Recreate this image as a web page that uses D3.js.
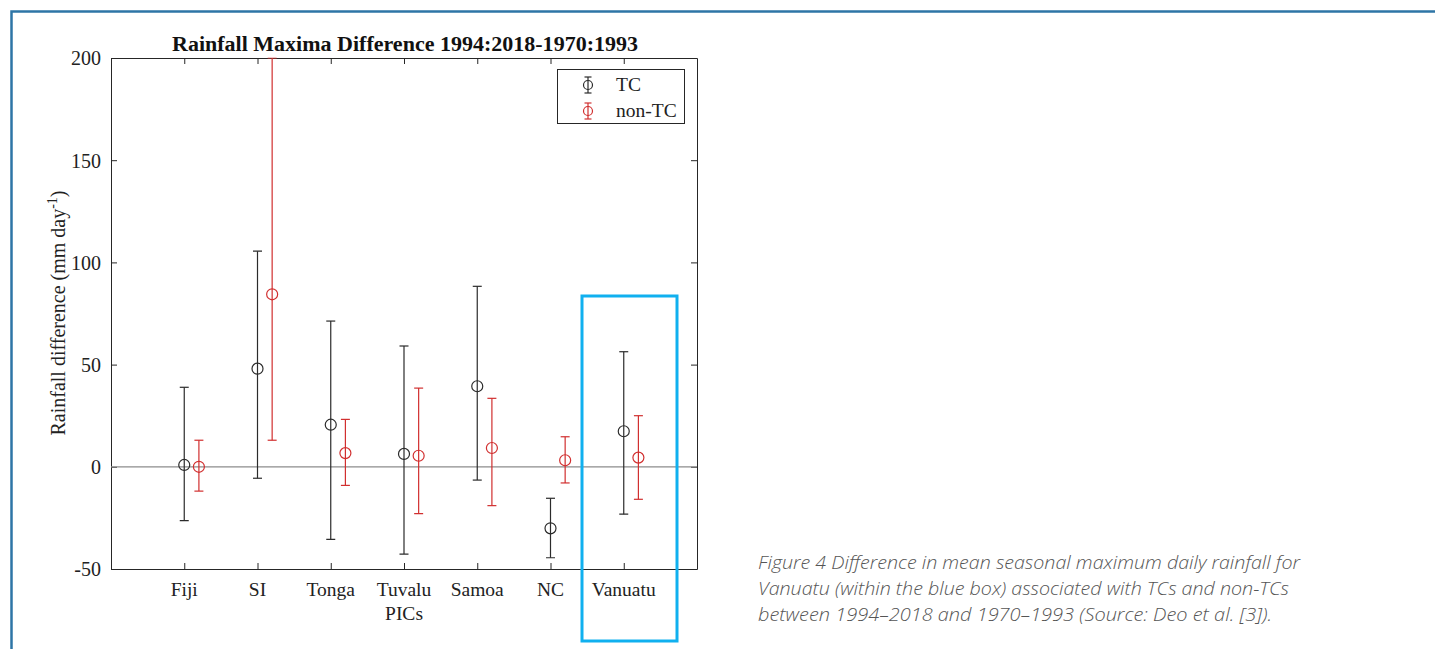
<!DOCTYPE html>
<html><head><meta charset="utf-8">
<script src="https://cdn.jsdelivr.net/npm/d3@7"></script>
<style>
html,body{margin:0;padding:0;background:#fff;}
svg{display:block;}
</style></head>
<body>
<script>
const categories = ["Fiji","SI","Tonga","Tuvalu","Samoa","NC","Vanuatu"];
const tcValue  = [0.9, 48.0, 20.6, 6.3, 39.4, -30.1, 17.4];
const tcUpper  = [38.9, 105.5, 71.3, 59.1, 88.3, -15.4, 56.3];
const tcLower  = [-26.3, -5.6, -35.5, -42.7, -6.5, -44.5, -23.2];
const ntcValue = [0.0, 84.4, 6.7, 5.4, 9.2, 3.2, 4.5];
const ntcUpper = [13.0, 200.0, 23.2, 38.5, 33.5, 14.7, 25.0];
const ntcLower = [-11.9, 13.0, -9.1, -22.9, -19.0, -7.9, -15.9];
const yTicks = [-50, 0, 50, 100, 150, 200];
const seriesNames = ["TC", "non-TC"];
const titleText = "Rainfall Maxima Difference 1994:2018-1970:1993";
const captionLines = [
  "Figure 4 Difference in mean seasonal maximum daily rainfall for",
  "Vanuatu (within the blue box) associated with TCs and non-TCs",
  "between 1994\u20132018 and 1970\u20131993 (Source: Deo et al. [3])."
];

const W = 1435, H = 649;
const m = {left:111, right:697, top:58, bottom:569};
const svg = d3.select("body").append("svg").attr("width", W).attr("height", H);

// page border
svg.append("path").attr("d", `M11.5,${H+5} V11.5 H${W+5}`)
  .attr("fill","none").attr("stroke","#2e75a6").attr("stroke-width",2.5);

const x = d3.scaleLinear().domain([0, categories.length + 1]).range([m.left, m.right]);
const y = d3.scaleLinear().domain([-50, 200]).range([m.bottom, m.top]);
const serif = "'Liberation Serif','Times New Roman',serif";
const axisColor = "#262626";
const colTC = "#2b2b2b", colNTC = "#d12f2f";

svg.append("defs").append("clipPath").attr("id","clip")
  .append("rect").attr("x", m.left).attr("y", m.top - 0.5)
  .attr("width", m.right - m.left).attr("height", m.bottom - m.top + 1);

// axes
const idx = categories.map((d,i)=>i+1);
const gB = svg.append("g").attr("transform",`translate(0,${m.bottom})`)
  .call(d3.axisBottom(x).tickValues(idx).tickSizeInner(-6).tickSizeOuter(0).tickFormat(""));
const gT = svg.append("g").attr("transform",`translate(0,${m.top})`)
  .call(d3.axisTop(x).tickValues(idx).tickSizeInner(-6).tickSizeOuter(0).tickFormat(""));
const gL = svg.append("g").attr("transform",`translate(${m.left},0)`)
  .call(d3.axisLeft(y).tickValues(yTicks).tickSizeInner(-6).tickSizeOuter(0).tickFormat(d=>String(d)).tickPadding(10));
const gR = svg.append("g").attr("transform",`translate(${m.right},0)`)
  .call(d3.axisRight(y).tickValues(yTicks).tickSizeInner(-6).tickSizeOuter(0).tickFormat(""));
[gB,gT,gL,gR].forEach(g=>{
  g.select(".domain").attr("stroke",axisColor).attr("stroke-width",1);
  g.selectAll(".tick line").attr("stroke",axisColor).attr("stroke-width",1);
});
gL.selectAll(".tick text").attr("font-family",serif).attr("font-size",20).attr("fill","#222")
  .attr("dy","0.34em");

// category labels
const catG = svg.append("g");
categories.forEach((c,i)=>{
  catG.append("text").attr("x", x(i+1)).attr("y", 596)
    .attr("text-anchor","middle").attr("font-family",serif).attr("font-size",19.5).attr("fill","#222").text(c);
});
catG.append("text").attr("x", x(4)).attr("y", 620)
  .attr("text-anchor","middle").attr("font-family",serif).attr("font-size",19.5).attr("fill","#222").text("PICs");

// zero line
svg.append("line").attr("x1", m.left).attr("x2", m.right).attr("y1", y(0)).attr("y2", y(0))
  .attr("stroke","#8c8c8c").attr("stroke-width",1.2);

// error bars
const off = 0.2, cap = 4.5, r = 5.5;
function drawSeries(vals, up, lo, color, dx){
  const g = svg.append("g").attr("clip-path","url(#clip)");
  vals.forEach((v,i)=>{
    const cx = x(i+1+dx);
    g.append("line").attr("x1",cx).attr("x2",cx).attr("y1",y(up[i])).attr("y2",y(lo[i]))
      .attr("stroke",color).attr("stroke-width",1.2);
    [up[i],lo[i]].forEach(e=>{
      g.append("line").attr("x1",cx-cap).attr("x2",cx+cap).attr("y1",y(e)).attr("y2",y(e))
        .attr("stroke",color).attr("stroke-width",1.2);
    });
    g.append("circle").attr("cx",cx).attr("cy",y(v)).attr("r",r)
      .attr("fill","none").attr("stroke",color).attr("stroke-width",1.2);
  });
}
drawSeries(tcValue, tcUpper, tcLower, colTC, 0);
drawSeries(ntcValue, ntcUpper, ntcLower, colNTC, off);

// title
svg.append("text").attr("x", 405).attr("y", 51).attr("text-anchor","middle")
  .attr("font-family",serif).attr("font-weight","bold").attr("font-size",20.5).attr("fill","#111")
  .attr("textLength",466).attr("lengthAdjust","spacingAndGlyphs")
  .text(titleText);

// y label
const yl = svg.append("text").attr("transform","translate(65,313) rotate(-90)")
  .attr("text-anchor","middle").attr("font-family",serif).attr("font-size",20).attr("fill","#222");
yl.append("tspan").text("Rainfall difference (mm day");
yl.append("tspan").attr("dy",-8).attr("font-size",14).text("-1");
yl.append("tspan").attr("dy",8).text(")");

// legend
const lg = svg.append("g");
lg.append("rect").attr("x",557.5).attr("y",69.5).attr("width",127).attr("height",54)
  .attr("fill","#fff").attr("stroke",axisColor).attr("stroke-width",1);
[colTC,colNTC].forEach((c,i)=>{
  const cy = 85 + i*26, cx = 588;
  lg.append("line").attr("x1",cx).attr("x2",cx).attr("y1",cy-8).attr("y2",cy+8).attr("stroke",c).attr("stroke-width",1.2);
  [cy-8,cy+8].forEach(yy=>lg.append("line").attr("x1",cx-3.5).attr("x2",cx+3.5).attr("y1",yy).attr("y2",yy).attr("stroke",c).attr("stroke-width",1.2));
  lg.append("circle").attr("cx",cx).attr("cy",cy).attr("r",4.5).attr("fill","none").attr("stroke",c).attr("stroke-width",1.2);
  lg.append("text").attr("x",616).attr("y",cy+6).attr("font-family",serif).attr("font-size",19.5).attr("fill","#222").text(seriesNames[i]);
});

// highlight box
svg.append("rect").attr("x",582).attr("y",296).attr("width",95).attr("height",345)
  .attr("fill","none").attr("stroke","#10b0ef").attr("stroke-width",3);

// caption
const capWidths = [542, 531, 514];
captionLines.forEach((t,i)=>{
  svg.append("text").attr("x",758).attr("y",569 + i*26)
    .attr("font-family","'Open Sans','Lato',sans-serif").attr("font-style","italic").attr("font-weight",300)
    .attr("font-size",19).attr("fill","#555")
    .attr("textLength",capWidths[i]).attr("lengthAdjust","spacingAndGlyphs").text(t);
});
</script>
</body></html>
